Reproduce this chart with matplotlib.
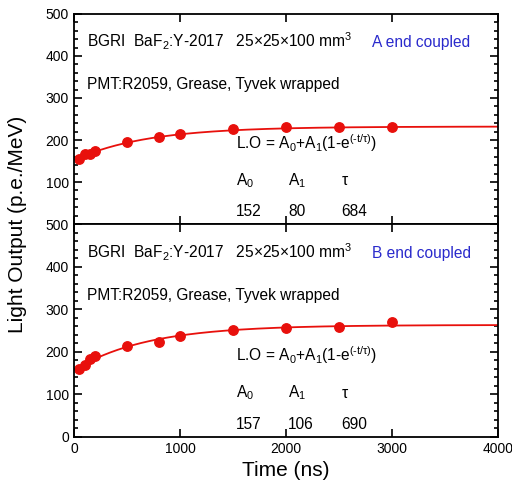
import numpy as np
import matplotlib
matplotlib.use("Agg")
import matplotlib.pyplot as plt
from matplotlib.ticker import MultipleLocator

plt.rcParams['font.family'] = ['Liberation Sans', 'DejaVu Sans']
plt.rcParams['mathtext.fontset'] = 'custom'
plt.rcParams['mathtext.rm'] = 'Liberation Sans'
plt.rcParams['mathtext.it'] = 'Liberation Sans'
plt.rcParams['mathtext.default'] = 'regular'

# data
t_ns = [50, 100, 150, 200, 500, 800, 1000, 1500, 2000, 2500, 3000]
lo_A = [155, 167, 166, 175, 195, 206, 214, 226, 231, 231, 231]
lo_B = [160, 170, 182, 190, 214, 223, 237, 252, 257, 258, 270]

fit_A = (152, 80, 684)   # A0, A1, tau
fit_B = (157, 106, 690)
labels = ["A end coupled", "B end coupled"]

red = '#e8100c'
blue = '#2a2acc'
fs = 11.2

fig = plt.figure(figsize=(5.12, 4.87), dpi=100)
ax1 = fig.add_axes([0.1445, 0.54, 0.8282, 0.4313])
ax2 = fig.add_axes([0.1445, 0.1027, 0.8282, 0.4373])

tt = np.linspace(0, 4000, 400)
for ax, lo, fit, lab in [(ax1, lo_A, fit_A, labels[0]), (ax2, lo_B, fit_B, labels[1])]:
    a0, a1, tau = fit
    ax.plot(tt, a0 + a1 * (1 - np.exp(-tt / tau)), color=red, lw=1.3)
    ax.plot(t_ns, lo, 'o', color=red, ms=6.8)
    ax.set_xlim(0, 4000)
    ax.set_ylim(0, 500)
    ax.xaxis.set_major_locator(MultipleLocator(1000))
    ax.yaxis.set_major_locator(MultipleLocator(100))
    ax.yaxis.set_minor_locator(MultipleLocator(20))
    ax.tick_params(which='both', direction='in', top=True, right=True, labelsize=10, width=1.2)
    ax.tick_params(which='major', length=6)
    ax.tick_params(which='minor', length=3)
    for s in ax.spines.values():
        s.set_linewidth(1.3)

    ax.text(0.03, 0.841, r"BGRI  BaF$_2$:Y-2017   25$\times$25$\times$100 mm$^3$",
            transform=ax.transAxes, fontsize=fs)
    ax.text(0.703, 0.841, lab, transform=ax.transAxes, fontsize=fs, color=blue)
    ax.text(0.03, 0.641, "PMT:R2059, Grease, Tyvek wrapped",
            transform=ax.transAxes, fontsize=fs)
    ax.text(1525, 179, "L.O = A$_0$+A$_1$(1-e$^{(\u2010t/\u03c4)}$)", fontsize=fs)
    ax.text(1525, 92, r"A$_0$", fontsize=fs)
    ax.text(2020, 92, r"A$_1$", fontsize=fs)
    ax.text(2525, 92, "τ", fontsize=fs)
    ax.text(1525, 19, str(a0), fontsize=fs)
    ax.text(2020, 19, str(a1), fontsize=fs)
    ax.text(2525, 19, str(tau), fontsize=fs)

ax1.set_yticks([100, 200, 300, 400, 500])
ax1.tick_params(labelbottom=False)
ax2.set_xlabel("Time (ns)", fontsize=15)
fig.text(0.035, 0.54, "Light Output (p.e./MeV)", rotation=90, fontsize=15,
         va='center', ha='center')

fig.savefig("out.png", dpi=100)
